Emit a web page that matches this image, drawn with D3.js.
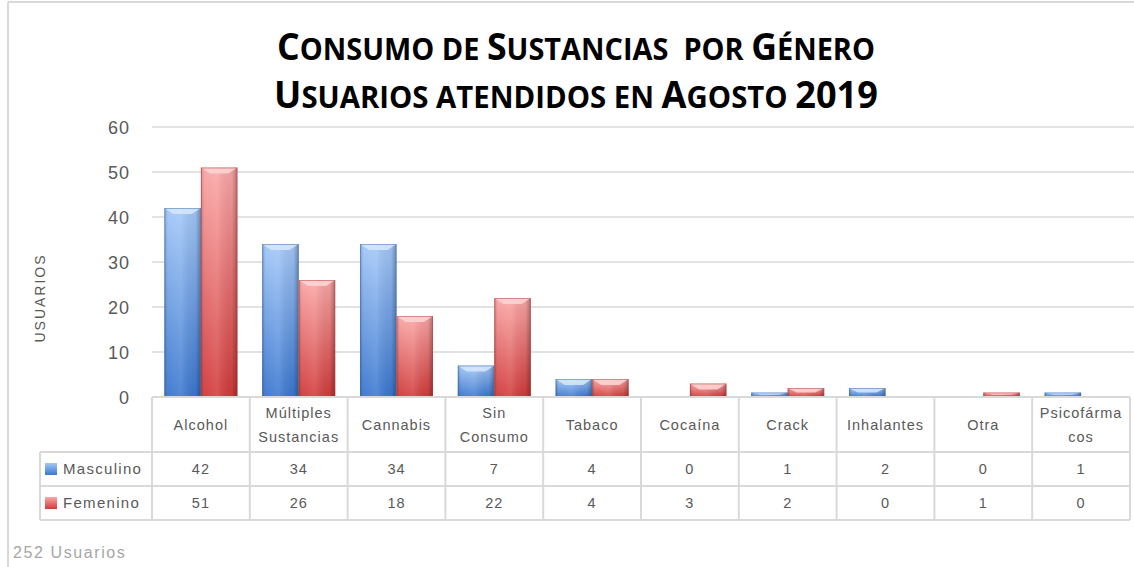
<!DOCTYPE html>
<html>
<head>
<meta charset="utf-8">
<script src="https://cdn.jsdelivr.net/npm/d3@7"></script>
<style>
  body { margin: 0; background: #fff; }
  svg { display: block; }
  text { font-family: "Liberation Sans", "DejaVu Sans", sans-serif; }
</style>
</head>
<body>
<svg id="chart" width="1134" height="567"></svg>
<script>
// chart data
let categories = ['Alcohol', 'Múltiples Sustancias', 'Cannabis', 'Sin Consumo', 'Tabaco',
    'Cocaína', 'Crack', 'Inhalantes', 'Otra', 'Psicofármacos'];
let categoryLines = [['Alcohol'], ['Múltiples', 'Sustancias'], ['Cannabis'], ['Sin', 'Consumo'], ['Tabaco'],
    ['Cocaína'], ['Crack'], ['Inhalantes'], ['Otra'], ['Psicofárma', 'cos']];
let seriesNames = ['Masculino', 'Femenino'];
let masculino = [42, 34, 34, 7, 4, 0, 1, 2, 0, 1];
let femenino = [51, 26, 18, 22, 4, 3, 2, 0, 1, 0];
let yTicks = [0, 10, 20, 30, 40, 50, 60];

let Plot = { Left: 152, Right: 1130, Top: 127, Bottom: 397 };
let Table = { LegendLeft: 40, HeaderBottom: 452, Row1Bottom: 486, Row2Bottom: 520 };
let gridColor = '#d9d9d9';
let textColor = '#595959';

let svg = d3.select('#chart');

// gradients
let defs = svg.append('defs');
let palettes = {
    Masculino: { top: '#a4c8f8', bottom: '#3a77cf', cap: '#d6e7fd', edge: '#3a6db4' },
    Femenino: { top: '#fba7a7', bottom: '#d13a3a', cap: '#fdd6d6', edge: '#b73a3a' }
};
Object.entries(palettes).forEach(([name, p]) => {
    let g = defs.append('linearGradient').attr('id', 'v' + name)
        .attr('x1', 0).attr('y1', 0).attr('x2', 0).attr('y2', 1);
    g.append('stop').attr('offset', '0%').attr('stop-color', p.top);
    g.append('stop').attr('offset', '100%').attr('stop-color', p.bottom);
});
let hg = defs.append('linearGradient').attr('id', 'shade')
    .attr('x1', 0).attr('y1', 0).attr('x2', 1).attr('y2', 0);
[[0, '#000', 0.22], [0.12, '#fff', 0.05], [0.45, '#fff', 0.12], [0.85, '#000', 0.05], [1, '#000', 0.3]]
    .forEach(s => hg.append('stop').attr('offset', s[0]).attr('stop-color', s[1]).attr('stop-opacity', s[2]));

// frame
svg.append('line').attr('x1', 8).attr('x2', 1134).attr('y1', 2).attr('y2', 2)
    .attr('stroke', gridColor).attr('stroke-width', 2);
svg.append('line').attr('x1', 8).attr('x2', 8).attr('y1', 2).attr('y2', 567)
    .attr('stroke', gridColor).attr('stroke-width', 2);

// title, small caps done by hand (big capitals, smaller uppercase for the rest)
let titleLines = ['Consumo de Sustancias  por Género', 'Usuarios atendidos en Agosto 2019'];
let titleY = [60, 108];
let titleWidth = [598, 604];
titleLines.forEach((t, i) => {
    let runs = [];
    Array.from(t).forEach(ch => {
        let big = ch !== ch.toLowerCase() || /[0-9]/.test(ch);
        let last = runs[runs.length - 1];
        if (last && last.big === big) last.text += ch;
        else runs.push({ big: big, text: ch });
    });
    let g = svg.append('g');
    let txt = g.append('text')
        .attr('x', 0).attr('y', 0)
        .attr('text-anchor', 'middle')
        .attr('xml:space', 'preserve')
        .style('white-space', 'pre')
        .style('font-family', '"Open Sans", sans-serif')
        .style('font-weight', 'bold')
        .attr('fill', '#000');
    txt.selectAll('tspan').data(runs).join('tspan')
        .style('font-size', d => d.big ? '37px' : '30px')
        .text(d => d.text.toUpperCase());
    // squeeze horizontally to the reference width (Calibri is narrow)
    let natural = txt.node().getComputedTextLength();
    g.attr('transform', `translate(576,${titleY[i]}) scale(${titleWidth[i] / natural},1)`);
});

// scales
let y = d3.scaleLinear().domain([0, 60]).range([Plot.Bottom, Plot.Top]);
let x0 = d3.scaleBand().domain(categories).range([Plot.Left, Plot.Right]);
let x1 = d3.scaleBand().domain(seriesNames).range([0, x0.bandwidth()]).paddingOuter(0.34);

// gridlines
svg.append('g').selectAll('line').data(yTicks.filter(d => d > 0)).join('line')
    .attr('x1', Plot.Left).attr('x2', 1134)
    .attr('y1', d => y(d)).attr('y2', d => y(d))
    .attr('stroke', gridColor).attr('stroke-width', 1.5);

// y axis labels
let yAxis = svg.append('g')
    .attr('transform', `translate(${Plot.Left - 22},0)`)
    .call(d3.axisLeft(y).tickValues(yTicks).tickSize(0).tickPadding(0));
yAxis.select('.domain').remove();
yAxis.selectAll('text')
    .attr('fill', textColor)
    .style('font-size', '18px')
    .style('letter-spacing', '1px')
    .style('font-family', '"Liberation Sans", sans-serif')
    .attr('dy', '0.35em');

svg.append('text')
    .attr('transform', 'translate(45,298) rotate(-90)')
    .attr('text-anchor', 'middle')
    .attr('fill', textColor)
    .style('font-size', '14px')
    .style('letter-spacing', '2px')
    .text('USUARIOS');

// bars
let groups = svg.append('g').selectAll('g').data(categories).join('g')
    .attr('transform', d => `translate(${x0(d)},0)`);

let barData = (c, i) => [
    { series: 'Masculino', value: masculino[i] },
    { series: 'Femenino', value: femenino[i] }
];

groups.each((c, i, nodes) => {
    let g = d3.select(nodes[i]);
    let bars = g.selectAll('g.bar').data(barData(c, i).filter(d => d.value > 0)).join('g')
        .attr('class', 'bar');
    bars.append('rect')
        .attr('x', d => x1(d.series)).attr('width', x1.bandwidth())
        .attr('y', d => y(d.value)).attr('height', d => y(0) - y(d.value))
        .attr('fill', d => `url(#v${d.series})`);
    bars.append('rect')
        .attr('x', d => x1(d.series)).attr('width', x1.bandwidth())
        .attr('y', d => y(d.value)).attr('height', d => y(0) - y(d.value))
        .attr('fill', 'url(#shade)');
    // bevelled top
    bars.append('polygon')
        .attr('points', d => {
            let l = x1(d.series), r = l + x1.bandwidth(), t = y(d.value);
            let h = Math.min(6, (y(0) - t) / 2), inset = 9;
            return [[l, t], [r, t], [r - inset, t + h], [l + inset, t + h]].join(' ');
        })
        .attr('fill', d => palettes[d.series].cap)
        .attr('opacity', 0.85);
    bars.append('rect')
        .attr('x', d => x1(d.series) + 0.5).attr('width', x1.bandwidth() - 1)
        .attr('y', d => y(d.value) + 0.5).attr('height', d => y(0) - y(d.value) - 1)
        .attr('fill', 'none')
        .attr('stroke', d => palettes[d.series].edge)
        .attr('stroke-opacity', 0.5);
});

// data table
let table = svg.append('g');
let hLines = [
    [Plot.Left, Plot.Bottom],
    [Table.LegendLeft, Table.HeaderBottom],
    [Table.LegendLeft, Table.Row1Bottom],
    [Table.LegendLeft, Table.Row2Bottom]
];
table.selectAll('line.h').data(hLines).join('line').attr('class', 'h')
    .attr('x1', d => d[0]).attr('x2', Plot.Right)
    .attr('y1', d => d[1]).attr('y2', d => d[1])
    .attr('stroke', gridColor).attr('stroke-width', 2);

let vLines = categories.map(c => x0(c)).concat([Plot.Right]);
table.selectAll('line.v').data(vLines).join('line').attr('class', 'v')
    .attr('x1', d => d).attr('x2', d => d)
    .attr('y1', Plot.Bottom).attr('y2', Table.Row2Bottom)
    .attr('stroke', gridColor).attr('stroke-width', 2);
table.append('line')
    .attr('x1', Table.LegendLeft).attr('x2', Table.LegendLeft)
    .attr('y1', Table.HeaderBottom).attr('y2', Table.Row2Bottom)
    .attr('stroke', gridColor).attr('stroke-width', 2);

// header labels
let headerMid = (Plot.Bottom + Table.HeaderBottom) / 2;
table.selectAll('text.head').data(categoryLines).join('text').attr('class', 'head')
    .attr('text-anchor', 'middle')
    .attr('fill', textColor)
    .style('font-size', '14.5px')
    .style('letter-spacing', '1px')
    .each((lines, i, nodes) => {
        let cx = x0(categories[i]) + x0.bandwidth() / 2;
        let start = headerMid - (lines.length - 1) * 12;
        d3.select(nodes[i]).selectAll('tspan').data(lines).join('tspan')
            .attr('x', cx)
            .attr('y', (l, j) => start + j * 24)
            .attr('dy', '0.35em')
            .text(l => l);
    });

// value rows
let rows = [
    { name: 'Masculino', values: masculino, top: Table.HeaderBottom, bottom: Table.Row1Bottom },
    { name: 'Femenino', values: femenino, top: Table.Row1Bottom, bottom: Table.Row2Bottom }
];
rows.forEach(r => {
    let cy = (r.top + r.bottom) / 2;
    table.append('g').selectAll('text').data(r.values).join('text')
        .attr('x', (v, i) => x0(categories[i]) + x0.bandwidth() / 2)
        .attr('y', cy).attr('dy', '0.35em')
        .attr('text-anchor', 'middle')
        .attr('fill', textColor)
        .style('font-size', '14.5px')
        .style('letter-spacing', '1px')
        .text(v => v);
    table.append('rect')
        .attr('x', 45).attr('y', cy - 6).attr('width', 12).attr('height', 12)
        .attr('fill', `url(#v${r.name})`);
    table.append('text')
        .attr('x', 63).attr('y', cy).attr('dy', '0.35em')
        .attr('fill', textColor)
        .style('font-size', '15px')
        .style('letter-spacing', '1.3px')
        .text(r.name);
});

// footer
svg.append('text')
    .attr('x', 13).attr('y', 552).attr('dy', '0.35em')
    .attr('fill', '#a6a6a6')
    .style('font-size', '16px')
    .style('letter-spacing', '1.6px')
    .text('252 Usuarios');
</script>
</body>
</html>
